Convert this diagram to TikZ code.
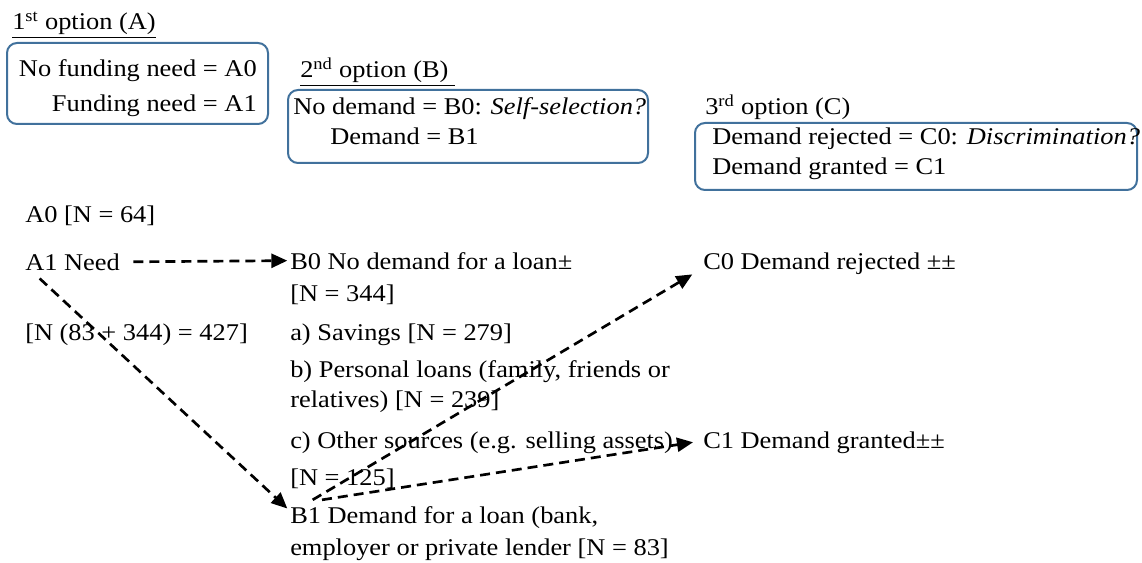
\documentclass[tikz,border=0pt]{standalone}
\usepackage{fontspec}
\setmainfont{Liberation Serif}[FakeStretch=1.1]
\usetikzlibrary{arrows.meta}
\definecolor{boxblue}{RGB}{65,113,156}
\begin{document}
\begin{tikzpicture}[x=0.75pt,y=-0.75pt,
  lbl/.style={anchor=base west,inner sep=0pt,font=\fontsize{18}{24}\selectfont},
  lblr/.style={lbl,anchor=base east},
  optbox/.style={draw=boxblue,line width=1.5pt,rounded corners=7.5pt},
  flow/.style={line width=2pt,dash pattern=on 7.5pt off 4.5pt,-{Triangle[length=12pt,width=10.5pt]}}]
\useasboundingbox (0,0) rectangle (1142,563);
\node[lbl] (opta) at (12,30) {\underline{1\textsuperscript{st} option (A)}};
\draw[optbox] (7,43) rectangle (268,124);
\node[lblr] (a0key) at (257,77) {No funding need = A0};
\node[lblr] (a1key) at (257,112) {Funding need = A1};
\node[lbl] (optb) at (300,78) {\underline{2\textsuperscript{nd} option (B)\ }};
\draw[optbox] (288,90) rectangle (648,163);
\node[lbl] (b0key) at (293,115) {No demand = B0: \textit{Self-selection?}};
\node[lbl] (b1key) at (330,145) {Demand = B1};
\node[lbl] (optc) at (705,115) {\underline{3\textsuperscript{rd} option (C)}};
\draw[optbox] (695,123) rectangle (1137,190);
\node[lbl] (c0key) at (712,145) {Demand rejected = C0: \textit{Discrimination?}};
\node[lbl] (c1key) at (712,175) {Demand granted = C1};
\node[lbl] (a0) at (25,223) {A0 [N = 64]};
\node[lbl] (a1) at (25,270) {A1 Need};
\node[lbl] (a1n) at (25,340) {[N (83 + 344) = 427]};
\node[lbl] (b0) at (290,269) {B0 No demand for a loan±};
\node[lbl] (b0n) at (290,301) {[N = 344]};
\node[lbl] (bsav) at (290,340) {a) Savings [N = 279]};
\node[lbl] (bpers) at (290,377) {b) Personal loans (family, friends or};
\node[lbl] (bpers2) at (290,407) {relatives) [N = 239]};
\node[lbl] (bother) at (290,448) {c) Other sources (e.g. selling assets)};
\node[lbl] (bother2) at (290,485) {[N = 125]};
\node[lbl] (b1) at (290,523) {B1 Demand for a loan (bank,};
\node[lbl] (b1b) at (290,555) {employer or private lender [N = 83]};
\node[lbl] (c0) at (703,269) {C0 Demand rejected ±±};
\node[lbl] (c1) at (703,448) {C1 Demand granted±±};
\draw[flow] ([xshift=10pt]a1.east)--([xshift=-2pt]b0.west);
\draw[flow] ([xshift=11pt,yshift=-6pt]a1.south west)--([xshift=-2pt,yshift=-2pt]b1.north west);
\draw[flow] ([xshift=17pt,yshift=4.5pt]b1.north west)--([xshift=-8pt]c0.south west);
\draw[flow] ([xshift=24pt,yshift=4.5pt]b1.north west)--([xshift=-7.5pt]c1.west);
\end{tikzpicture}
\end{document}
